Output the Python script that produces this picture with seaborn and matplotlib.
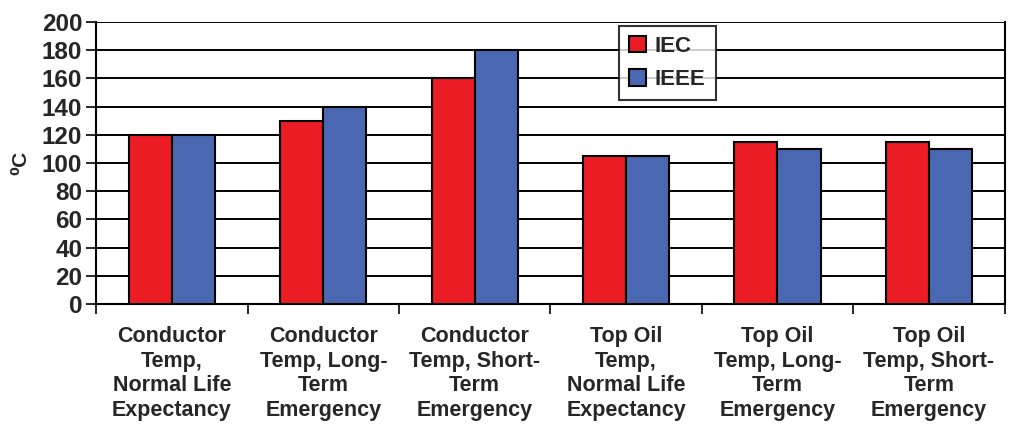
import numpy as np
import pandas as pd
import seaborn as sns
import matplotlib.pyplot as plt
from matplotlib.ticker import FixedLocator

categories = [
    "Conductor\nTemp,\nNormal Life\nExpectancy",
    "Conductor\nTemp, Long-\nTerm\nEmergency",
    "Conductor\nTemp, Short-\nTerm\nEmergency",
    "Top Oil\nTemp,\nNormal Life\nExpectancy",
    "Top Oil\nTemp, Long-\nTerm\nEmergency",
    "Top Oil\nTemp, Short-\nTerm\nEmergency",
]
iec = [120, 130, 160, 105, 115, 115]
ieee = [120, 140, 180, 105, 110, 110]
yticks = list(range(0, 201, 20))

df = pd.DataFrame({
    "cat": categories * 2,
    "val": iec + ieee,
    "std": ["IEC"] * len(iec) + ["IEEE"] * len(ieee),
})

sns.set_style("white")
plt.rcParams['font.family'] = ['Liberation Sans', 'DejaVu Sans']
plt.rcParams['font.weight'] = 'bold'

fig = plt.figure(figsize=(10.24, 4.46), dpi=100)
ax = fig.add_axes([0.094, 0.318, 0.887, 0.633])

sns.barplot(data=df, x="cat", y="val", hue="std", order=categories,
            palette={"IEC": "#EC1C24", "IEEE": "#4A67B1"}, saturation=1,
            width=0.57, edgecolor="black", linewidth=1.5, ax=ax, zorder=3)

ax.set_ylim(0, 200)
ax.set_xlim(-0.5, len(categories) - 0.5)
ax.set_yticks(yticks)
ax.yaxis.grid(True, color="black", linewidth=1.4, zorder=0)
ax.set_axisbelow(True)
for s in ax.spines.values():
    s.set_color("black")
    s.set_linewidth(1.5)
ax.spines["top"].set_visible(False)

ax.set_xlabel("")
ax.set_ylabel("\u2070C", fontsize=15, fontweight="bold", labelpad=8)
ax.tick_params(axis="y", labelsize=17.5, length=7, width=1.4, direction="out", left=True, pad=3)
ax.set_yticklabels([str(t) for t in yticks], fontweight="bold")

# category labels centered, ticks at group boundaries
ax.tick_params(axis="x", which="major", length=0, labelsize=15.5, pad=16)
ax.set_xticks(range(len(categories)))
ax.set_xticklabels(categories, fontweight="bold", linespacing=1.22)
ax.xaxis.set_minor_locator(FixedLocator(np.arange(-0.5, len(categories), 1.0)))
ax.tick_params(axis="x", which="minor", length=7, width=1.4, direction="out", bottom=True)

leg = ax.legend(loc="upper left", bbox_to_anchor=(0.576, 0.985), frameon=True,
                fancybox=False, edgecolor="black", fontsize=16,
                handlelength=0.75, handleheight=0.75, handletextpad=0.4,
                borderpad=0.45, labelspacing=0.55, borderaxespad=0)
leg.get_frame().set_linewidth(1.5)
for t in leg.get_texts():
    t.set_fontweight("bold")

fig.savefig("out.png", dpi=100, facecolor="white")
